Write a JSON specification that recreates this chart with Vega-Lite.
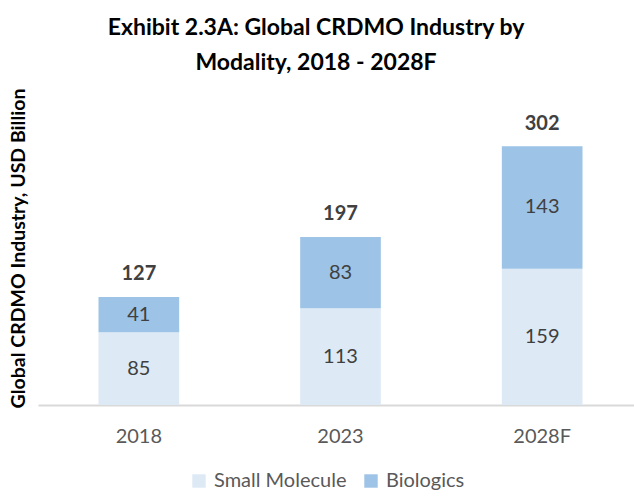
{
  "$schema": "https://vega.github.io/schema/vega-lite/v6.json",
  "width": 596,
  "height": 300,
  "autosize": "none",
  "padding": {"left": 38, "top": 105, "right": 0, "bottom": 94},
  "background": "white",
  "config": {"view": {"stroke": null}, "font": "Lato"},
  "title": {
    "text": ["Exhibit 2.3A: Global CRDMO Industry by", "Modality, 2018 - 2028F"],
    "fontSize": 23,
    "font": "Lato",
    "fontWeight": "bold",
    "color": "#000000",
    "lineHeight": 35,
    "anchor": "middle",
    "dx": -20,
    "offset": 13
  },
  "datasets": {
    "segments": [
      {"year": "2018", "modality": "Small Molecule", "value": 85},
      {"year": "2018", "modality": "Biologics", "value": 41},
      {"year": "2023", "modality": "Small Molecule", "value": 113},
      {"year": "2023", "modality": "Biologics", "value": 83},
      {"year": "2028F", "modality": "Small Molecule", "value": 159},
      {"year": "2028F", "modality": "Biologics", "value": 143}
    ],
    "totals": [
      {"year": "2018", "total": 127},
      {"year": "2023", "total": 197},
      {"year": "2028F", "total": 302}
    ]
  },
  "encoding": {
    "x": {
      "field": "year",
      "type": "nominal",
      "sort": ["2018", "2023", "2028F"],
      "scale": {"paddingInner": 0.6, "paddingOuter": 0.3, "range": [0, 605]},
      "axis": {
        "title": null,
        "labelAngle": 0,
        "labelFontSize": 20,
        "labelFont": "Lato",
        "labelColor": "#595959",
        "labelPadding": 21,
        "ticks": false,
        "domainColor": "#D9D9D9",
        "domainWidth": 2
      }
    }
  },
  "layer": [
    {
      "data": {"name": "segments"},
      "mark": {"type": "bar"},
      "encoding": {
        "y": {
          "field": "value",
          "type": "quantitative",
          "stack": "zero",
          "scale": {"domain": [0, 350], "nice": false},
          "axis": {
            "title": "Global CRDMO Industry, USD Billion",
            "labels": false,
            "ticks": false,
            "domain": false,
            "grid": false,
            "titleFont": "Lato",
            "titleFontSize": 19.5,
            "titleFontWeight": "bold",
            "titleColor": "#000000",
            "titleAngle": -90,
            "titleAlign": "center",
            "titleBaseline": "middle",
            "titleX": -20,
            "titleY": 143
          }
        },
        "order": {"field": "modality", "sort": "descending"},
        "color": {
          "field": "modality",
          "type": "nominal",
          "scale": {"domain": ["Small Molecule", "Biologics"], "range": ["#DDEAF6", "#9DC3E6"]},
          "legend": {
            "title": null,
            "orient": "none",
            "direction": "horizontal",
            "legendX": 151,
            "legendY": 366,
            "symbolType": "square",
            "symbolSize": 180,
            "symbolStrokeWidth": 0,
            "labelFontSize": 20,
            "labelFont": "Lato",
            "labelColor": "#595959",
            "columnPadding": 14,
            "labelOffset": 5
          }
        }
      }
    },
    {
      "data": {"name": "segments"},
      "transform": [
        {"stack": "value", "groupby": ["year"], "sort": [{"field": "modality", "order": "descending"}], "as": ["y0", "y1"]},
        {"calculate": "(datum.y0 + datum.y1) / 2", "as": "mid"}
      ],
      "mark": {"type": "text", "fontSize": 20, "font": "Lato", "color": "#404040", "baseline": "middle"},
      "encoding": {
        "y": {"field": "mid", "type": "quantitative"},
        "text": {"field": "value", "type": "quantitative"}
      }
    },
    {
      "data": {"name": "totals"},
      "mark": {"type": "text", "fontSize": 20, "font": "Lato", "fontWeight": "bold", "color": "#404040", "baseline": "bottom", "dy": -12},
      "encoding": {
        "y": {"field": "total", "type": "quantitative"},
        "text": {"field": "total", "type": "quantitative"}
      }
    }
  ]
}
